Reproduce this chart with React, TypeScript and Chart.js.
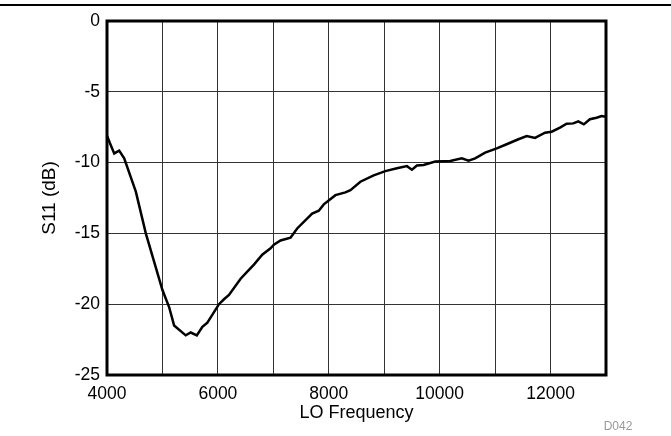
import React, { useEffect, useRef } from "react";
import { Chart, registerables } from "chart.js";

Chart.register(...registerables);

const freqMHz: number[] = [
  4000, 4050, 4130, 4220, 4310, 4520, 4700, 5000, 5120, 5210, 5420, 5510, 5620, 5720, 5810,
  6020, 6110, 6200, 6410, 6530, 6650, 6800, 6950, 7010, 7130, 7310, 7430, 7700, 7820, 7910,
  8120, 8300, 8390, 8570, 8810, 9020, 9230, 9410, 9500, 9590, 9710, 9920, 10190, 10400, 10520,
  10640, 10820, 11030, 11240, 11420, 11570, 11720, 11900, 12020, 12170, 12290, 12410, 12500,
  12600, 12710, 12830, 12920, 13000,
];
const s11dB: number[] = [
  -8.1, -8.6, -9.35, -9.15, -9.7, -12.05, -15.0, -19.0, -20.2, -21.5, -22.2, -22.0, -22.2, -21.6, -21.3,
  -20.0, -19.65, -19.35, -18.2, -17.7, -17.2, -16.5, -16.05, -15.8, -15.5, -15.3, -14.65, -13.6, -13.4, -12.95,
  -12.3, -12.1, -11.95, -11.35, -10.9, -10.6, -10.4, -10.25, -10.5, -10.2, -10.17, -9.93, -9.88, -9.7, -9.86,
  -9.7, -9.3, -9.0, -8.65, -8.35, -8.12, -8.26, -7.89, -7.82, -7.53, -7.25, -7.23, -7.09,
  -7.3, -6.94, -6.83, -6.71, -6.76,
];
const xLabelTicks: number[] = [4000, 6000, 8000, 10000, 12000];
const xTitle = "LO Frequency";
const yTitle = "S11 (dB)";
const figureId = "D042";

const FONT = "'Liberation Sans', Arial, sans-serif";

const framePlugin = {
  id: "frame",
  afterDraw(chart: any) {
    const { ctx, chartArea } = chart;
    ctx.save();
    ctx.strokeStyle = "#000";
    ctx.lineWidth = 3;
    ctx.strokeRect(chartArea.left, chartArea.top, chartArea.right - chartArea.left, chartArea.bottom - chartArea.top);
    ctx.lineWidth = 2;
    ctx.beginPath();
    ctx.moveTo(0, 5);
    ctx.lineTo(chart.width, 5);
    ctx.stroke();
    ctx.fillStyle = "#999";
    ctx.font = `12px ${FONT}`;
    ctx.textAlign = "center";
    ctx.textBaseline = "middle";
    ctx.fillText(figureId, 618, 427);
    ctx.restore();
  },
};

export default function App() {
  const ref = useRef<HTMLCanvasElement>(null);
  useEffect(() => {
    if (!ref.current) return;
    const chart = new Chart(ref.current, {
      type: "line",
      data: {
        datasets: [
          {
            data: freqMHz.map((f, i) => ({ x: f, y: s11dB[i] })),
            borderColor: "#000",
            borderWidth: 2.5,
            pointRadius: 0,
            tension: 0,
            fill: false,
          },
        ],
      },
      options: {
        animation: false,
        responsive: false,
        maintainAspectRatio: false,
        layout: { padding: { left: 0, top: 21, right: 65, bottom: 0 } },
        plugins: { legend: { display: false }, tooltip: { enabled: false } },
        scales: {
          x: {
            type: "linear",
            min: 4000,
            max: 13000,
            afterFit: (s: any) => {
              s.height = 61;
            },
            ticks: {
              stepSize: 1000,
              autoSkip: false,
              maxRotation: 0,
              color: "#000",
              font: { family: FONT, size: 17.5 },
              padding: 9,
              callback: (v: any) => (xLabelTicks.includes(Number(v)) ? String(v) : ""),
            },
            grid: { color: "#333", lineWidth: 1, drawTicks: false },
            border: { display: false },
            title: {
              display: true,
              text: xTitle,
              color: "#000",
              font: { family: FONT, size: 18 },
              padding: { top: 0, bottom: 12 },
            },
          },
          y: {
            type: "linear",
            min: -25,
            max: 0,
            afterFit: (s: any) => {
              s.width = 107;
            },
            ticks: {
              stepSize: 5,
              color: "#000",
              font: { family: FONT, size: 17.5 },
              padding: 7,
            },
            grid: { color: "#333", lineWidth: 1, drawTicks: false },
            border: { display: false },
            title: {
              display: true,
              text: yTitle,
              color: "#000",
              font: { family: FONT, size: 19 },
              padding: { top: 38, bottom: 0 },
            },
          },
        },
      },
      plugins: [framePlugin],
    });
    return () => chart.destroy();
  }, []);
  return (
    <div style={{ position: "fixed", left: 0, top: 0, width: 671, height: 436, background: "#fff" }}>
      <canvas ref={ref} width={671} height={436} style={{ width: 671, height: 436 }} />
    </div>
  );
}
